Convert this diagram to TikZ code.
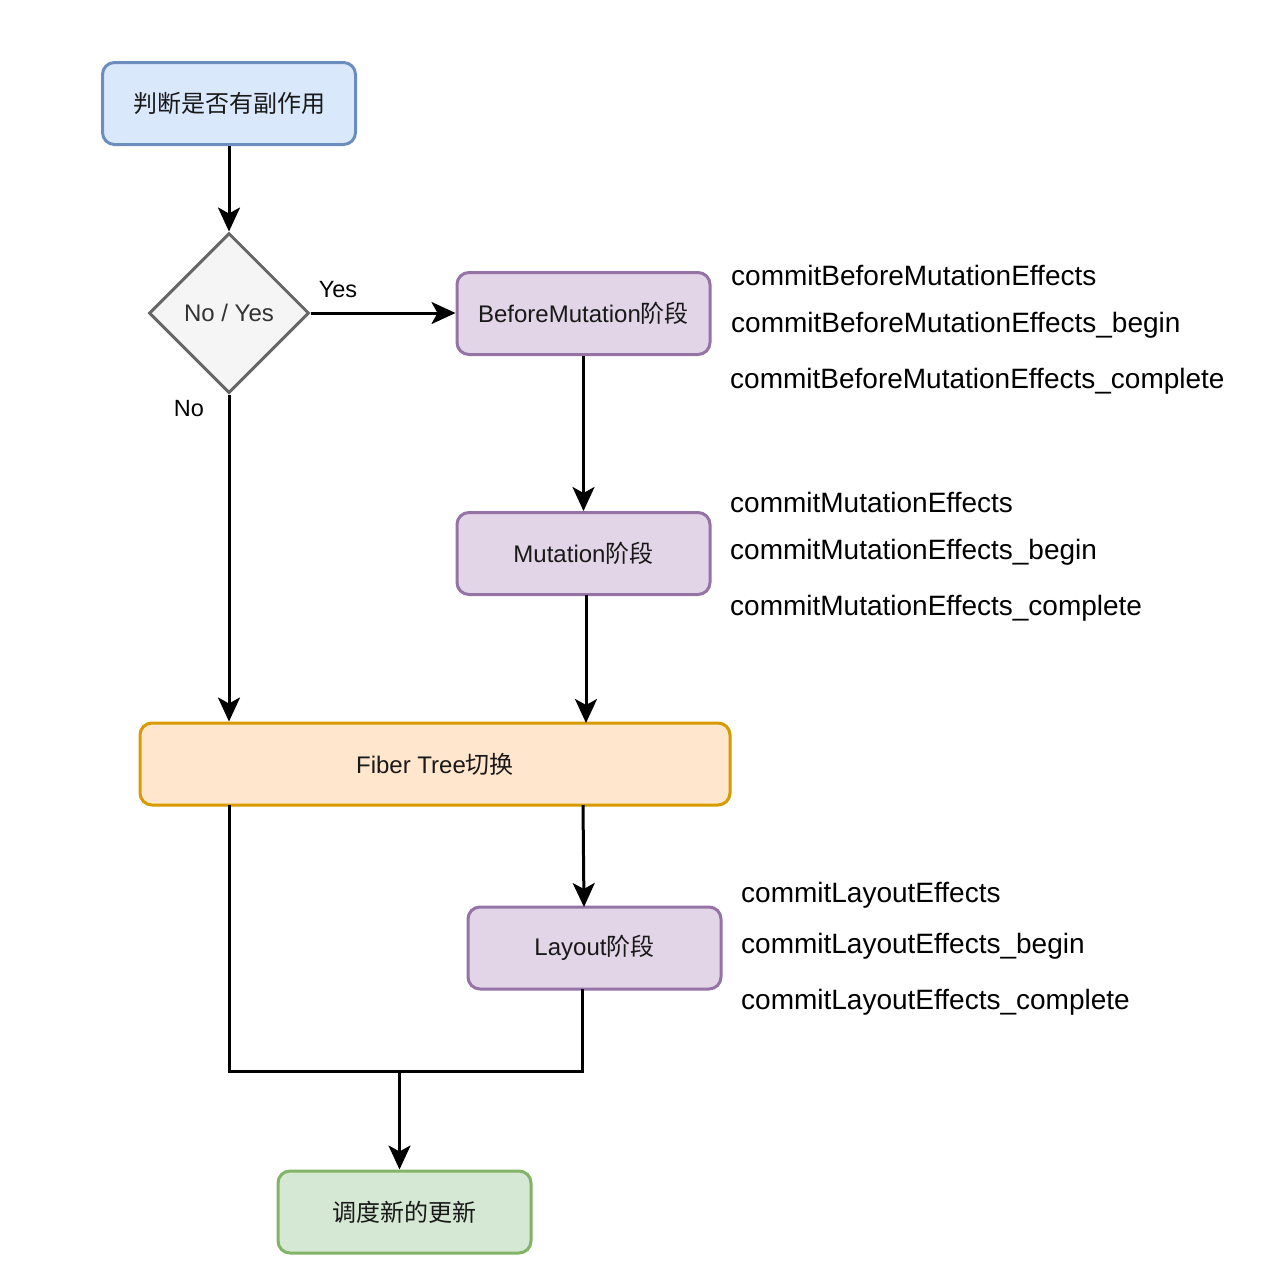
\documentclass[tikz,border=0pt]{standalone}
\usepackage{fontspec}
\setmainfont{Liberation Sans}
\newfontfamily\cjk{Noto Sans CJK SC}
\usetikzlibrary{arrows.meta,shapes.geometric}
\definecolor{bluefill}{HTML}{DAE8FC}\definecolor{bluedraw}{HTML}{6C8EBF}
\definecolor{purpfill}{HTML}{E1D5E7}\definecolor{purpdraw}{HTML}{9673A6}
\definecolor{orfill}{HTML}{FFE6CC}\definecolor{ordraw}{HTML}{D79B00}
\definecolor{grfill}{HTML}{D5E8D4}\definecolor{grdraw}{HTML}{82B366}
\definecolor{gyfill}{HTML}{F5F5F5}\definecolor{gydraw}{HTML}{666666}
\begin{document}
\begin{tikzpicture}[x=1pt,y=-1pt,
  box/.style={rounded corners=12pt, line width=3pt, minimum width=253pt, minimum height=82pt, inner sep=0pt, font=\fontsize{24}{28}\selectfont, text=black!90},
  bluebox/.style={box, fill=bluefill, draw=bluedraw},
  purpbox/.style={box, fill=purpfill, draw=purpdraw},
  orbox/.style={box, fill=orfill, draw=ordraw, minimum width=590pt},
  grbox/.style={box, fill=grfill, draw=grdraw},
  dec/.style={diamond, aspect=1, fill=gyfill, draw=gydraw, line width=3pt, minimum width=160pt, minimum height=160pt, inner sep=0pt, font=\fontsize{24}{28}\selectfont, text=black!80},
  conn/.style={line width=3pt, -{Stealth[length=24pt,width=22pt,inset=6pt]}},
  plain/.style={line width=3pt},
  lbl/.style={font=\fontsize{23.5}{28}\selectfont, inner sep=0pt},
  fn/.style={font=\fontsize{28}{32}\selectfont, anchor=west, inner sep=0pt}
]
\useasboundingbox (0,0) rectangle (1278,1278);
\fill[white] (0,0) rectangle (1278,1278);

\node[bluebox] (start) at (229,103.5) {\cjk 判断是否有副作用};
\node[dec] (d) at (229,313) {No / Yes};
\node[purpbox] (bm) at (583.5,313.5) {BeforeMutation{\cjk 阶段}};
\node[purpbox] (mu) at (583.5,553.5) {Mutation{\cjk 阶段}};
\node[orbox] (ft) at (435,764) {Fiber Tree{\cjk 切换}};
\node[purpbox] (la) at (594.5,948) {Layout{\cjk 阶段}};
\node[grbox] (en) at (404.5,1212) {\cjk 调度新的更新};

\node[lbl] (yes) at (338,290) {Yes};
\node[lbl] (no) at (189,409) {No};

\draw[conn] (start.south) -- (d.north);
\draw[conn] (d.east) -- (d.east -| bm.west);
\draw[conn] (d.south) -- (d.south |- ft.north);
\draw[conn] (bm.south) -- (mu.north);
\draw[conn] (586,595) -- (586,723);
\draw[conn] (583,805) -- (584,907);

\coordinate (jl) at (229,1071);
\coordinate (jr) at (582,1071);
\coordinate (jm) at (399.5,1071);
\draw[plain] (229,805) -- (jl) -- (jr) -- (582,989);
\draw[conn] (jm) -- (en.north -| jm);

\node[fn] (t1) at (731,275) {commitBeforeMutationEffects};
\node[fn] (t2) at (731,325) {commitBeforeMutationEffects\_begin};
\node[fn] (t3) at (730,381) {commitBeforeMutationEffects\_complete};
\node[fn] (t4) at (730,502) {commitMutationEffects};
\node[fn] (t5) at (730,552) {commitMutationEffects\_begin};
\node[fn] (t6) at (730,608) {commitMutationEffects\_complete};
\node[fn] (t7) at (741,895) {commitLayoutEffects};
\node[fn] (t8) at (741,946) {commitLayoutEffects\_begin};
\node[fn] (t9) at (741,1002) {commitLayoutEffects\_complete};
\end{tikzpicture}
\end{document}
